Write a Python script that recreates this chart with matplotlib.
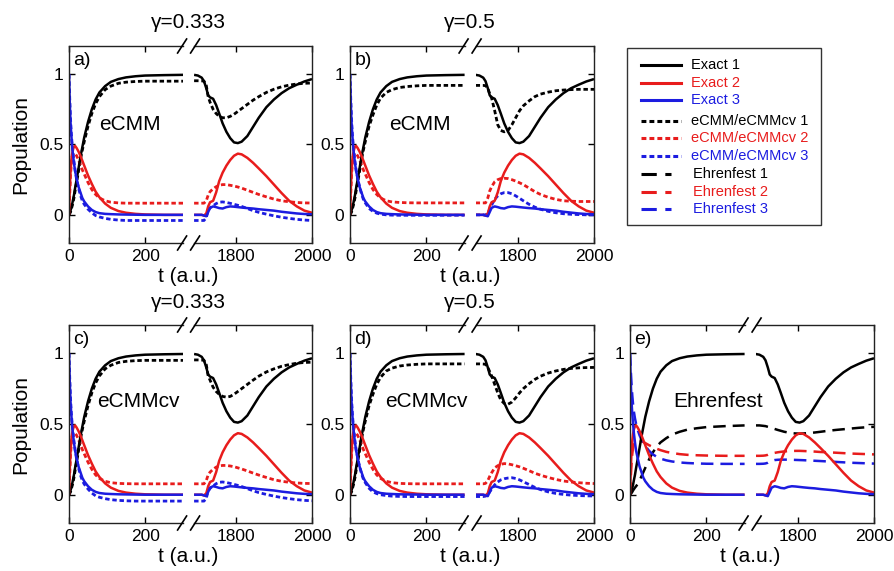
import matplotlib
matplotlib.use('Agg')
import matplotlib.pyplot as plt
from matplotlib.lines import Line2D
from matplotlib.patches import Rectangle

plt.rcParams['font.family'] = ['Liberation Sans', 'DejaVu Sans']

W, H = 894, 571

# ---------------- data ----------------
t_left = [0, 2, 4, 6, 8, 10, 13, 16, 20, 25, 30, 35, 40, 50, 60, 70, 80, 95, 110, 130, 150, 175, 200, 250, 300]
t_right = [1690, 1700, 1710, 1716, 1722, 1727, 1732, 1740, 1748, 1756, 1765, 1775, 1785, 1795, 1805, 1815,
           1830, 1845, 1860, 1880, 1900, 1920, 1940, 1960, 1980, 2000]

exact1_left = [0, 0.01, 0.03, 0.05, 0.07, 0.1, 0.14, 0.19, 0.25, 0.33, 0.41, 0.48, 0.55, 0.66, 0.75, 0.82, 0.87,
               0.915, 0.945, 0.965, 0.977, 0.985, 0.99, 0.993, 0.995]
exact2_left = [0, 0.18, 0.3, 0.38, 0.43, 0.46, 0.485, 0.49, 0.475, 0.45, 0.42, 0.385, 0.35, 0.28, 0.22, 0.165,
               0.125, 0.08, 0.05, 0.027, 0.015, 0.007, 0.003, 0.0, 0.0]
exact3_left = [1.0, 0.8, 0.66, 0.57, 0.5, 0.44, 0.37, 0.31, 0.26, 0.2, 0.16, 0.12, 0.095, 0.06, 0.035, 0.02,
               0.012, 0.007, 0.005, 0.003, 0.002, 0.001, 0.0, 0.0, 0.0]
exact1_right = [0.995, 0.99, 0.975, 0.95, 0.9, 0.85, 0.835, 0.825, 0.78, 0.72, 0.65, 0.59, 0.545, 0.515, 0.51,
                0.52, 0.56, 0.625, 0.69, 0.765, 0.82, 0.865, 0.9, 0.925, 0.948, 0.965]
exact2_right = [0.0, 0.0, 0.0, -0.005, 0.01, 0.06, 0.09, 0.1, 0.16, 0.24, 0.3, 0.35, 0.39, 0.42, 0.435, 0.43,
                0.405, 0.37, 0.33, 0.275, 0.215, 0.155, 0.1, 0.06, 0.03, 0.015]
exact3_right = [0.0, 0.0, 0.0, -0.005, -0.01, 0.02, 0.05, 0.06, 0.055, 0.048, 0.045, 0.055, 0.06, 0.058, 0.055,
                0.052, 0.048, 0.045, 0.04, 0.035, 0.03, 0.022, 0.016, 0.01, 0.006, 0.004]

# panel a: eCMM, gamma=0.333
a_cmm1_left = [0, 0.01, 0.02, 0.04, 0.06, 0.08, 0.12, 0.17, 0.23, 0.31, 0.39, 0.46, 0.52, 0.63, 0.72, 0.79, 0.84,
               0.89, 0.915, 0.935, 0.943, 0.948, 0.95, 0.95, 0.95]
a_cmm2_left = [0, 0.15, 0.28, 0.36, 0.41, 0.43, 0.44, 0.435, 0.42, 0.39, 0.355, 0.32, 0.29, 0.23, 0.18, 0.145,
               0.12, 0.1, 0.09, 0.085, 0.083, 0.083, 0.083, 0.083, 0.083]
a_cmm3_left = [1.0, 0.82, 0.68, 0.58, 0.51, 0.45, 0.38, 0.32, 0.25, 0.19, 0.14, 0.1, 0.075, 0.04, 0.015, -0.005,
               -0.015, -0.025, -0.032, -0.037, -0.04, -0.04, -0.04, -0.04, -0.04]
a_cmm1_right = [0.953, 0.953, 0.952, 0.95, 0.92, 0.84, 0.8, 0.75, 0.72, 0.7, 0.69, 0.69, 0.7, 0.715, 0.735, 0.755,
                0.785, 0.815, 0.84, 0.87, 0.893, 0.91, 0.922, 0.93, 0.935, 0.937]
a_cmm2_right = [0.083, 0.083, 0.083, 0.083, 0.1, 0.14, 0.165, 0.185, 0.2, 0.21, 0.215, 0.215, 0.21, 0.205, 0.198,
                0.19, 0.175, 0.16, 0.145, 0.128, 0.112, 0.1, 0.093, 0.088, 0.085, 0.084]
a_cmm3_right = [-0.04, -0.04, -0.04, -0.04, -0.02, 0.03, 0.05, 0.065, 0.08, 0.09, 0.092, 0.088, 0.082, 0.075,
                0.068, 0.06, 0.045, 0.03, 0.018, 0.005, -0.007, -0.017, -0.025, -0.032, -0.037, -0.04]

# panel b: eCMM, gamma=0.5
b_cmm1_left = [0, 0.01, 0.02, 0.04, 0.06, 0.08, 0.12, 0.17, 0.23, 0.31, 0.39, 0.46, 0.52, 0.63, 0.71, 0.78, 0.83,
               0.87, 0.89, 0.905, 0.912, 0.917, 0.92, 0.92, 0.92]
b_cmm2_left = [0, 0.15, 0.28, 0.36, 0.41, 0.43, 0.44, 0.435, 0.42, 0.39, 0.355, 0.32, 0.29, 0.23, 0.18, 0.145,
               0.12, 0.1, 0.092, 0.088, 0.086, 0.085, 0.085, 0.085, 0.085]
b_cmm3_left = [1.0, 0.82, 0.68, 0.58, 0.51, 0.45, 0.38, 0.32, 0.26, 0.2, 0.15, 0.11, 0.085, 0.045, 0.025, 0.012,
               0.005, 0.0, -0.002, -0.003, -0.003, -0.003, -0.003, -0.003, -0.003]
b_cmm1_right = [0.92, 0.92, 0.92, 0.918, 0.9, 0.86, 0.83, 0.74, 0.64, 0.6, 0.59, 0.6, 0.64, 0.69, 0.74, 0.775,
                0.81, 0.84, 0.858, 0.872, 0.882, 0.887, 0.89, 0.892, 0.892, 0.892]
b_cmm2_right = [0.085, 0.085, 0.085, 0.085, 0.12, 0.17, 0.2, 0.235, 0.25, 0.258, 0.26, 0.258, 0.25, 0.24, 0.228,
                0.215, 0.19, 0.165, 0.145, 0.125, 0.11, 0.1, 0.097, 0.095, 0.095, 0.095]
b_cmm3_right = [0.0, 0.0, 0.0, 0.0, 0.01, 0.04, 0.07, 0.11, 0.135, 0.15, 0.158, 0.158, 0.15, 0.135, 0.118, 0.1,
                0.075, 0.055, 0.04, 0.025, 0.015, 0.008, 0.004, 0.002, 0.0, 0.0]

# panel c: eCMMcv, gamma=0.333
c_cmm1_left = [0, 0.01, 0.02, 0.04, 0.06, 0.08, 0.12, 0.17, 0.23, 0.31, 0.39, 0.46, 0.52, 0.63, 0.72, 0.79, 0.84,
               0.89, 0.915, 0.935, 0.943, 0.948, 0.95, 0.95, 0.95]
c_cmm2_left = [0, 0.15, 0.28, 0.36, 0.41, 0.43, 0.44, 0.435, 0.42, 0.39, 0.355, 0.32, 0.29, 0.23, 0.18, 0.14,
               0.115, 0.095, 0.085, 0.08, 0.078, 0.077, 0.077, 0.077, 0.077]
c_cmm3_left = [1.0, 0.82, 0.68, 0.58, 0.51, 0.45, 0.38, 0.32, 0.25, 0.19, 0.14, 0.1, 0.075, 0.04, 0.012, -0.008,
               -0.018, -0.028, -0.035, -0.04, -0.043, -0.045, -0.045, -0.045, -0.045]
c_cmm1_right = [0.953, 0.953, 0.952, 0.95, 0.92, 0.84, 0.81, 0.76, 0.73, 0.71, 0.695, 0.69, 0.695, 0.71, 0.73,
                0.75, 0.78, 0.81, 0.838, 0.868, 0.89, 0.908, 0.92, 0.93, 0.935, 0.937]
c_cmm2_right = [0.077, 0.077, 0.077, 0.077, 0.1, 0.14, 0.16, 0.18, 0.195, 0.203, 0.207, 0.207, 0.203, 0.198,
                0.19, 0.182, 0.168, 0.153, 0.139, 0.122, 0.106, 0.095, 0.088, 0.083, 0.08, 0.079]
c_cmm3_right = [-0.045, -0.045, -0.045, -0.045, -0.025, 0.025, 0.045, 0.062, 0.078, 0.088, 0.09, 0.086, 0.08,
                0.073, 0.066, 0.058, 0.043, 0.028, 0.015, 0.002, -0.01, -0.02, -0.028, -0.035, -0.04, -0.043]

# panel d: eCMMcv, gamma=0.5
d_cmm1_left = [0, 0.01, 0.02, 0.04, 0.06, 0.08, 0.12, 0.17, 0.23, 0.31, 0.39, 0.46, 0.52, 0.63, 0.71, 0.78, 0.83,
               0.875, 0.895, 0.91, 0.917, 0.922, 0.925, 0.925, 0.925]
d_cmm2_left = [0, 0.15, 0.28, 0.36, 0.41, 0.43, 0.44, 0.435, 0.42, 0.39, 0.355, 0.32, 0.29, 0.23, 0.18, 0.14,
               0.115, 0.095, 0.085, 0.08, 0.078, 0.077, 0.077, 0.077, 0.077]
d_cmm3_left = [1.0, 0.82, 0.68, 0.58, 0.51, 0.45, 0.38, 0.32, 0.26, 0.2, 0.15, 0.11, 0.085, 0.045, 0.02, 0.008,
               0.0, -0.006, -0.01, -0.012, -0.013, -0.013, -0.013, -0.013, -0.013]
d_cmm1_right = [0.925, 0.925, 0.924, 0.922, 0.9, 0.87, 0.84, 0.78, 0.72, 0.67, 0.645, 0.64, 0.655, 0.685, 0.72,
                0.75, 0.785, 0.815, 0.838, 0.86, 0.875, 0.886, 0.893, 0.897, 0.899, 0.9]
d_cmm2_right = [0.077, 0.077, 0.077, 0.08, 0.1, 0.13, 0.155, 0.19, 0.205, 0.215, 0.22, 0.218, 0.212, 0.205, 0.197,
                0.187, 0.17, 0.152, 0.138, 0.122, 0.108, 0.097, 0.09, 0.085, 0.081, 0.079]
d_cmm3_right = [-0.013, -0.013, -0.013, -0.01, 0.0, 0.02, 0.04, 0.07, 0.09, 0.105, 0.113, 0.118, 0.12, 0.115,
                0.105, 0.092, 0.072, 0.052, 0.036, 0.02, 0.009, 0.002, -0.003, -0.006, -0.008, -0.009]

# panel e: Ehrenfest
ehr1_left = [0, 0.005, 0.012, 0.02, 0.03, 0.038, 0.05, 0.06, 0.075, 0.1, 0.13, 0.16, 0.19, 0.25, 0.3, 0.34, 0.37,
             0.4, 0.425, 0.445, 0.46, 0.47, 0.478, 0.485, 0.49]
ehr2_left = [0, 0.12, 0.22, 0.29, 0.33, 0.355, 0.37, 0.38, 0.385, 0.385, 0.38, 0.372, 0.365, 0.35, 0.337, 0.325,
             0.315, 0.303, 0.295, 0.287, 0.282, 0.279, 0.277, 0.275, 0.275]
ehr3_left = [1.0, 0.88, 0.78, 0.7, 0.64, 0.59, 0.54, 0.5, 0.46, 0.42, 0.39, 0.365, 0.345, 0.31, 0.285, 0.268,
             0.255, 0.243, 0.235, 0.228, 0.224, 0.221, 0.219, 0.218, 0.218]
ehr1_right = [0.49, 0.49, 0.487, 0.485, 0.48, 0.476, 0.472, 0.465, 0.458, 0.452, 0.445, 0.44, 0.435, 0.433,
              0.432, 0.433, 0.436, 0.44, 0.445, 0.452, 0.458, 0.463, 0.468, 0.473, 0.477, 0.48]
ehr2_right = [0.275, 0.275, 0.276, 0.278, 0.282, 0.288, 0.292, 0.296, 0.3, 0.303, 0.306, 0.308, 0.309, 0.31, 0.31,
              0.309, 0.307, 0.305, 0.302, 0.3, 0.297, 0.294, 0.291, 0.289, 0.287, 0.285]
ehr3_right = [0.218, 0.218, 0.219, 0.221, 0.226, 0.234, 0.24, 0.245, 0.247, 0.248, 0.248, 0.248, 0.247, 0.246,
              0.245, 0.244, 0.242, 0.24, 0.238, 0.235, 0.232, 0.229, 0.226, 0.224, 0.222, 0.22]

panel_letters = ['a)', 'b)', 'c)', 'd)', 'e)']
panel_methods = ['eCMM', 'eCMM', 'eCMMcv', 'eCMMcv', 'Ehrenfest']
panel_titles = ['\u03b3=0.333', '\u03b3=0.5', '\u03b3=0.333', '\u03b3=0.5', '']
method_text_x = [80, 103, 74, 92, 113]
method_text_y = [0.64, 0.64, 0.66, 0.66, 0.66]

legend_labels = ['Exact 1', 'Exact 2', 'Exact 3',
                 'eCMM/eCMMcv 1', 'eCMM/eCMMcv 2', 'eCMM/eCMMcv 3',
                 'Ehrenfest 1', 'Ehrenfest 2', 'Ehrenfest 3']

x_ticks_left = [0, 200]
x_ticks_right = [1800, 2000]
y_ticks = [0, 0.5, 1]
y_ticklabels = ['0', '0.5', '1']

# ---------------- style ----------------
BLACK = '#000000'
RED = '#e81c1c'
BLUE = '#1c1ce0'
COLORS = [BLACK, RED, BLUE]
LW = 1.8
SHORT_DASH = (0, (1.6, 1.0))
LONG_DASH = (0, (5.0, 2.8))

fig = plt.figure(figsize=(W / 100, H / 100), dpi=100)

# panel boxes in pixels (x0, x1, top, bottom)
boxes = [(69, 312, 46, 243), (350, 594, 46, 243), (69, 312, 325, 523), (350, 594, 325, 523), (630, 874, 325, 523)]
GAP = 11.0
LSPAN = 300.0
RSPAN = 310.0

cmm_sets = [
    (a_cmm1_left, a_cmm2_left, a_cmm3_left, a_cmm1_right, a_cmm2_right, a_cmm3_right),
    (b_cmm1_left, b_cmm2_left, b_cmm3_left, b_cmm1_right, b_cmm2_right, b_cmm3_right),
    (c_cmm1_left, c_cmm2_left, c_cmm3_left, c_cmm1_right, c_cmm2_right, c_cmm3_right),
    (d_cmm1_left, d_cmm2_left, d_cmm3_left, d_cmm1_right, d_cmm2_right, d_cmm3_right),
    (ehr1_left, ehr2_left, ehr3_left, ehr1_right, ehr2_right, ehr3_right),
]
exact_left = [exact1_left, exact2_left, exact3_left]
exact_right = [exact1_right, exact2_right, exact3_right]


def fx(px):
    return px / W


def fy(py):
    return 1 - py / H


TICK_FS = 12.5
LABEL_FS = 15

for i, (x0, x1, top, bot) in enumerate(boxes):
    s = (x1 - x0 - GAP) / (LSPAN + RSPAN)
    wl = LSPAN * s
    wr = RSPAN * s
    hh = bot - top
    axL = fig.add_axes([fx(x0), fy(bot), wl / W, hh / H])
    axR = fig.add_axes([fx(x1 - wr), fy(bot), wr / W, hh / H])
    axL.set_xlim(0, LSPAN)
    axR.set_xlim(2000 - RSPAN, 2000)
    for ax in (axL, axR):
        ax.patch.set_visible(False)
        ax.set_ylim(-0.2, 1.2)
        ax.set_yticks(y_ticks)
        for sp in ax.spines.values():
            sp.set_linewidth(1.0)
            sp.set_color('#222222')
    axL.spines['right'].set_visible(False)
    axR.spines['left'].set_visible(False)
    axL.set_xticks(x_ticks_left)
    axR.set_xticks(x_ticks_right)
    axL.set_yticklabels(y_ticklabels)
    axL.tick_params(direction='in', top=True, bottom=True, left=True, right=False, length=4, width=1,
                    labelsize=TICK_FS, pad=4)
    axR.tick_params(direction='in', top=True, bottom=True, left=False, right=True, labelleft=False, length=4,
                    width=1, labelsize=TICK_FS, pad=4)

    sets = cmm_sets[i]
    ls = LONG_DASH if i == 4 else SHORT_DASH
    lwd = 1.8 if i == 4 else 2.0
    for k in range(3):
        axL.plot(t_left, sets[k], color=COLORS[k], lw=lwd, linestyle=ls)
        axR.plot(t_right, sets[3 + k], color=COLORS[k], lw=lwd, linestyle=ls)
    for k in range(3):
        axL.plot(t_left, exact_left[k], color=COLORS[k], lw=LW, solid_capstyle='butt')
        axR.plot(t_right, exact_right[k], color=COLORS[k], lw=LW, solid_capstyle='butt')

    axL.text(12, 1.1, panel_letters[i], fontsize=14, va='center', ha='left')
    axL.text(method_text_x[i], method_text_y[i], panel_methods[i], fontsize=15, va='center', ha='left',
             clip_on=False, zorder=10)

    # break marks
    xe1 = x0 + wl
    xe2 = x1 - wr
    xc = (xe1 + xe2) / 2
    for yy in (top, bot):
        for xb in (xe1 - 1, xe2 + 1):
            fig.add_artist(Line2D([fx(xb - 4.5), fx(xb + 4.5)], [fy(yy + 7), fy(yy - 7)],
                                  color='black', lw=1.2))

    if panel_titles[i]:
        fig.text(fx(xc), fy(top - 23), panel_titles[i], fontsize=LABEL_FS, ha='center', va='center')
    fig.text(fx(xc), fy(bot + 34), 't (a.u.)', fontsize=LABEL_FS, ha='center', va='center')
    if x0 < 100:
        fig.text(fx(21), fy((top + bot) / 2), 'Population', fontsize=LABEL_FS, ha='center', va='center',
                 rotation=90)

# ---------------- legend (drawn by hand) ----------------
fig.add_artist(Rectangle((fx(627), fy(225)), (821 - 627) / W, (225 - 48) / H, fill=False,
                         edgecolor='#333333', lw=1.0))
row_y = [65, 82.7, 100, 120.7, 138.3, 156, 174, 191.7, 209]
for j, lab in enumerate(legend_labels):
    col = COLORS[j % 3]
    grp = j // 3
    if grp == 0:
        style, xa, xb, xt = '-', 641, 681, 691
    elif grp == 1:
        style, xa, xb, xt = SHORT_DASH, 641, 681, 691
    else:
        style, xa, xb, xt = LONG_DASH, 641, 671, 693
    fig.add_artist(Line2D([fx(xa), fx(xb)], [fy(row_y[j]), fy(row_y[j])], color=col, lw=2.2,
                          linestyle=style))
    fig.text(fx(xt), fy(row_y[j]), lab, color=col, fontsize=10.5, ha='left', va='center')

fig.savefig('out.png', dpi=100)
